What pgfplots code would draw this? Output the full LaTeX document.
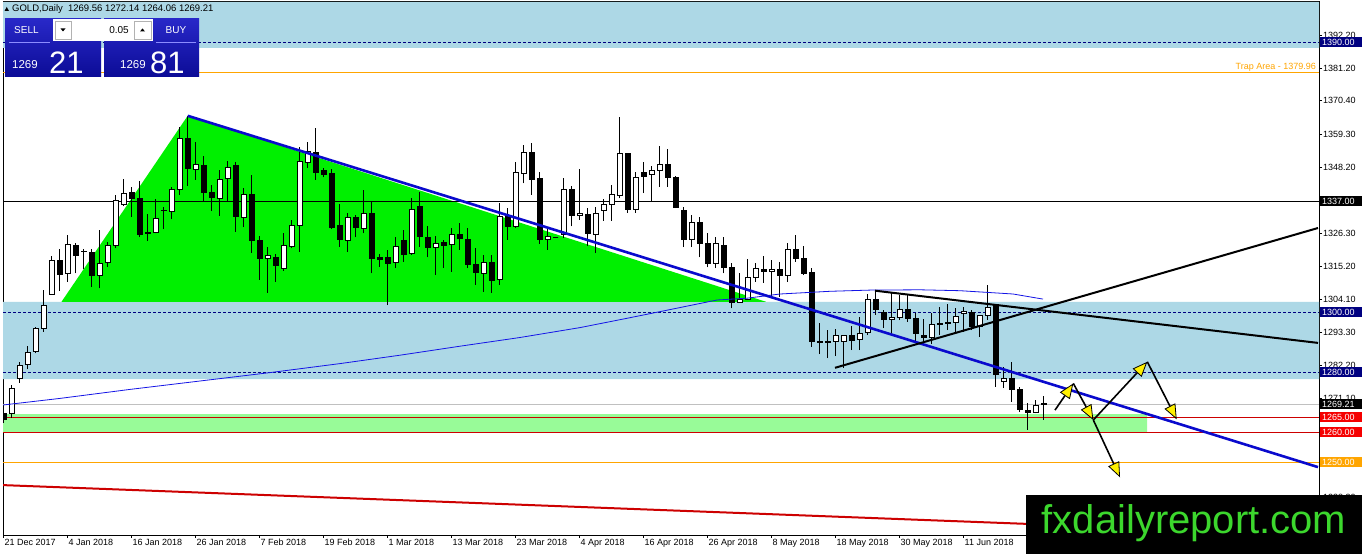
\documentclass[border=0pt]{standalone}
\usepackage{fontspec}
\setmainfont{Liberation Sans}
\usepackage{pgfplots}
\usepackage{pgfplotstable}
\pgfplotsset{compat=1.18}
\usetikzlibrary{arrows.meta}

\definecolor{lblue}{RGB}{173,216,230}
\definecolor{pgreen}{RGB}{152,251,152}
\definecolor{limeg}{RGB}{0,240,0}
\definecolor{navyc}{RGB}{0,0,128}
\definecolor{trendblue}{RGB}{10,10,205}
\definecolor{mablue}{RGB}{20,20,230}
\definecolor{redl}{RGB}{205,0,0}
\definecolor{redb}{RGB}{245,0,0}
\definecolor{orangec}{RGB}{255,165,0}
\definecolor{silverc}{RGB}{192,192,192}
\definecolor{wmgreen}{RGB}{60,215,45}
\definecolor{ptop}{RGB}{40,40,200}
\definecolor{pbot}{RGB}{12,12,150}
\definecolor{yel}{RGB}{255,240,0}

\newcommand{\fs}{\fontsize{9}{10}\selectfont}
\newcommand{\pricebox}[3]{\node[fill=#2, text=white, anchor=west, inner xsep=2pt, inner ysep=0pt, text width=38pt, align=left, minimum height=10pt, text height=6.5pt, text depth=0pt, font=\fs] at (axis cs:1320,#1) {#3};}

\pgfplotstableread{
k o h l c
0 1266.2 1267 1263 1264.2
1 1266.2 1275.7 1264.6 1274.6
2 1277.9 1283.4 1276.4 1282.3
3 1282.6 1288.7 1280.9 1286.6
4 1286.8 1295.1 1286.2 1294.6
5 1294.6 1307.3 1293.4 1302.3
6 1305.9 1318.7 1305.7 1317.3
7 1317.3 1320.9 1307.1 1312.6
8 1312.9 1325.7 1310.1 1322.6
9 1322.3 1323.1 1312.9 1318.8
10 1320.2 1321 1314.2 1320.0
11 1319.9 1321 1308.4 1312.1
12 1312.1 1327.3 1307.9 1316.2
13 1316.4 1323.4 1315.1 1322
14 1322.1 1339 1321.2 1337.3
15 1335.9 1344.3 1335.3 1339.6
16 1339.9 1341.6 1331.6 1337.7
17 1337.9 1343.8 1325.1 1325.7
18 1326.6 1332.6 1323.7 1326.2
19 1326.6 1337.7 1326.2 1331.2
20 1333.7 1335.1 1327.6 1333.9
21 1333.4 1341.6 1330.9 1340.9
22 1340.9 1361.6 1339 1357.9
23 1357.9 1365.4 1342 1347.7
24 1347.6 1356.8 1344 1349.2
25 1348.9 1352 1337.1 1339.8
26 1339.9 1342.3 1333.8 1338.1
27 1337.9 1347.3 1332.1 1344.3
28 1344.6 1350.4 1337.1 1348.1
29 1348.8 1349.9 1326.8 1331.8
30 1331.6 1341.2 1328.2 1339
31 1339.2 1345.7 1319.8 1323.8
32 1323.7 1325.3 1310.7 1317.7
33 1317.9 1321.8 1306.4 1318.7
34 1318.2 1319.3 1310.1 1315.4
35 1314.6 1326.2 1313.8 1322.2
36 1321.8 1330.7 1321.2 1328.8
37 1328.8 1355.1 1320.1 1350.1
38 1349.9 1356.6 1348.1 1353.4
39 1353.2 1361.2 1344 1346.6
40 1347.3 1348.1 1344.9 1345.7
41 1346 1347.6 1327.7 1328.2
42 1328.7 1336 1321.8 1324
43 1323.8 1332.9 1320.1 1331.6
44 1331.6 1332.3 1324.9 1328.1
45 1327.9 1340.7 1326.2 1332.9
46 1332.7 1336.8 1312.9 1317.7
47 1318 1319.3 1315.1 1317.4
48 1318 1320.7 1302.3 1316.3
49 1316.6 1325.1 1314.6 1321.8
50 1323.7 1327.3 1316.8 1319.3
51 1319.6 1337.9 1319 1334.2
52 1335.1 1340.1 1321.8 1325.1
53 1324.9 1328.7 1318.2 1321.4
54 1321.6 1325.3 1312.3 1322.9
55 1323.2 1324 1314.6 1322.3
56 1322.6 1328.1 1313.4 1325.9
57 1325.9 1329.6 1320.7 1324.4
58 1324.2 1327.9 1314.6 1315.9
59 1315.9 1321.2 1309 1313.1
60 1312.9 1319 1306.8 1316.6
61 1316.6 1319 1306.4 1310.4
62 1310.7 1336.2 1309 1331.8
63 1331.8 1334.6 1324 1328.4
64 1328.4 1349.9 1327.9 1346.6
65 1346.2 1355.7 1342.9 1353.2
66 1353.2 1356.4 1339 1344
67 1344.6 1346.8 1322.7 1324.2
68 1324.3 1327.6 1320.7 1325.1
69 1324.8 1325 1324.6 1324.8
70 1325.7 1344.6 1324.6 1340.9
71 1340.7 1342 1328.5 1332.1
72 1332.1 1347.7 1330.7 1332.9
73 1332.6 1334.6 1322 1326
74 1325.9 1335.1 1319.6 1332.9
75 1333.8 1337.6 1330.4 1335.9
76 1335.9 1342.3 1330.4 1339.2
77 1338.8 1365.1 1337.9 1352.7
78 1352.7 1352.9 1333.1 1334.3
79 1334.2 1346.8 1333.1 1344.9
80 1346.4 1349.9 1339.6 1345.1
81 1345.9 1348.7 1337.1 1347
82 1347 1355.3 1341.8 1349
83 1349 1354.3 1341.8 1344.8
84 1344.9 1345.3 1334.6 1334.9
85 1333.7 1334.9 1321.6 1324.2
86 1324.2 1332.3 1321.6 1329.9
87 1329.9 1331.6 1318.2 1322.7
88 1322.7 1326.2 1314.9 1316
89 1316 1325.1 1314.6 1322.9
90 1322.3 1325.1 1312.9 1314.9
91 1314.9 1316.2 1301.2 1303.2
92 1303.2 1313.1 1303 1304.2
93 1304.3 1317.7 1304 1311.6
94 1311.6 1316.2 1310.1 1314.6
95 1314.1 1318.6 1309.7 1313.4
96 1313.4 1317.3 1305.1 1314.2
97 1314.2 1316.8 1305.1 1312.1
98 1312.3 1322.9 1310.1 1320.9
99 1320.9 1325.7 1316.8 1317.9
100 1317.9 1322 1312.3 1312.9
101 1313.1 1314.6 1288.4 1290.1
102 1290.3 1296.4 1286 1289.9
103 1290 1294 1284.6 1290.2
104 1290.1 1294.2 1285.3 1292.3
105 1290.1 1292.3 1281.5 1292.1
106 1292.1 1295.3 1287.3 1290.4
107 1290.9 1298.2 1287.3 1292.9
108 1293.1 1306 1292.3 1304.3
109 1304.3 1307.1 1299 1300.7
110 1299.8 1300.7 1294.6 1297.6
111 1297.6 1306.8 1292.3 1298.2
112 1298.2 1305.7 1297.3 1300.9
113 1300.9 1305.7 1296.8 1297.7
114 1297.9 1299.6 1289.8 1292.9
115 1292.3 1297.6 1289.8 1291.6
116 1291.6 1299.6 1289.3 1295.9
117 1296.2 1301.6 1292.3 1295.9
118 1296.2 1302.7 1294 1296.6
119 1296.6 1301.2 1293.4 1298.4
120 1299.6 1301.6 1293.4 1300.1
121 1299.8 1300.7 1294 1295.1
122 1295.1 1299 1291.6 1298.7
123 1298.8 1309 1297.3 1301.6
124 1302.4 1302.6 1275.1 1279.3
125 1276.8 1281.8 1274.6 1277.9
126 1277.9 1283.4 1270.1 1274.3
127 1274.3 1274.9 1266.8 1267.6
128 1267.1 1269.6 1260.7 1266.6
129 1266.4 1270.7 1266.2 1269
130 1269.56 1272.14 1264.06 1269.21
}\candles

\pgfplotstableread{
x y
3 1269
60 1271.2
130 1274.2
200 1277
270 1279.8
340 1282.8
400 1285.6
460 1288.6
520 1291.5
580 1294.8
627 1297.9
670 1300.8
717 1304
747 1304.6
780 1306
830 1306.9
870 1307.3
920 1307.4
960 1307.1
1013 1306
1043 1304.3
}\mavals

\begin{document}
\begin{tikzpicture}
\useasboundingbox (0,0) rectangle (1362pt,554pt);
\fill[white] (0,0) rectangle (1362pt,554pt);
\begin{axis}[
  at={(3pt,19pt)}, anchor=south west,
  scale only axis, width=1316pt, height=533pt,
  xmin=3, xmax=1319, ymin=1225.67, ymax=1403.33,
  clip mode=individual,
  axis line style={black, line width=1pt},
  tick style={black, line width=0.8pt},
  tick align=outside, major tick length=3pt,
  xtick pos=left, ytick pos=right, yticklabel pos=right,
  xtick={3.5,67.5,131.5,195.5,259.5,323.5,387.5,451.5,515.5,579.5,643.5,707.5,771.5,835.5,899.5,963.5},
  xticklabels={21 Dec 2017,4 Jan 2018,16 Jan 2018,26 Jan 2018,7 Feb 2018,19 Feb 2018,1 Mar 2018,13 Mar 2018,23 Mar 2018,4 Apr 2018,16 Apr 2018,26 Apr 2018,8 May 2018,18 May 2018,30 May 2018,11 Jun 2018},
  ytick={1392.2,1381.2,1370.4,1359.3,1348.2,1337.1,1326.3,1315.2,1304.1,1293.3,1282.2,1271.1,1260.2,1249.2,1238.3},
  yticklabels={1392.20,1381.20,1370.40,1359.30,1348.20,1337.10,1326.30,1315.20,1304.10,1293.30,1282.20,1271.10,1260.20,1249.20,1238.30},
  xticklabel style={font=\fs, anchor=north west, inner sep=0pt, xshift=1pt, yshift=-1pt},
  yticklabel style={font=\fs, anchor=west, inner sep=0pt, xshift=1pt},
]
% zones
\addplot[fill=lblue, draw=none, forget plot] coordinates {(3,1388) (1319,1388) (1319,1403.33) (3,1403.33) (3,1388)};
\addplot[fill=lblue, draw=none, forget plot] coordinates {(3,1277.6) (1319,1277.6) (1319,1303.4) (3,1303.4) (3,1277.6)};
\addplot[fill=pgreen, draw=none, forget plot] coordinates {(3,1260) (1147,1260) (1147,1266) (3,1266) (3,1260)};
\addplot[fill=limeg, draw=none, forget plot] coordinates {(61.5,1303.4) (187.7,1365.4) (766,1303.4) (61.5,1303.4)};
% horizontal levels
\addplot[black, line width=0.8pt, forget plot] coordinates {(3,1337) (1319,1337)};
\addplot[navyc, line width=0.8pt, dash pattern=on 3pt off 2pt, forget plot] coordinates {(3,1390) (1319,1390)};
\addplot[navyc, line width=0.8pt, dash pattern=on 3pt off 2pt, forget plot] coordinates {(3,1300) (1319,1300)};
\addplot[navyc, line width=0.8pt, dash pattern=on 3pt off 2pt, forget plot] coordinates {(3,1280) (1319,1280)};
\addplot[orangec, line width=0.8pt, forget plot] coordinates {(3,1379.96) (1319,1379.96)};
\addplot[silverc, line width=0.8pt, forget plot] coordinates {(3,1269.21) (1319,1269.21)};
\addplot[redl, line width=0.8pt, forget plot] coordinates {(3,1265) (1319,1265)};
\addplot[redl, line width=0.8pt, forget plot] coordinates {(3,1260) (1319,1260)};
\addplot[orangec, line width=0.8pt, forget plot] coordinates {(3,1250) (1319,1250)};
% candles
\pgfplotstablegetrowsof{\candles}
\pgfmathtruncatemacro{\nrows}{\pgfplotsretval-1}
\pgfplotsforeachungrouped \i in {0,...,\nrows}{%
  \pgfplotstablegetelem{\i}{k}\of\candles
  \pgfmathsetmacro{\cx}{3.5+8*\pgfplotsretval}%
  \pgfplotstablegetelem{\i}{o}\of\candles \let\co\pgfplotsretval
  \pgfplotstablegetelem{\i}{h}\of\candles \let\ch\pgfplotsretval
  \pgfplotstablegetelem{\i}{l}\of\candles \let\cl\pgfplotsretval
  \pgfplotstablegetelem{\i}{c}\of\candles \let\cc\pgfplotsretval
  \pgfmathsetmacro{\xl}{\cx-2.5}%
  \pgfmathsetmacro{\xr}{\cx+2.5}%
  \pgfmathtruncatemacro{\up}{(\cc>\co)}%
  \ifnum\up=1 \def\fc{white}\else\def\fc{black}\fi
  \edef\temp{\noexpand\addplot[black, line width=1pt, forget plot] coordinates {(\cx,\cl) (\cx,\ch)};
    \noexpand\addplot[draw=black, fill=\fc, line width=1pt, forget plot] coordinates {(\xl,\co) (\xr,\co) (\xr,\cc) (\xl,\cc) (\xl,\co)};}%
  \temp
}
% moving average
\addplot[mablue, line width=0.8pt, forget plot] table[x=x, y=y] {\mavals};
% trend lines
\addplot[trendblue, line width=2.6pt, forget plot] coordinates {(187.7,1365.4) (1318,1248.3)};
\addplot[black, line width=2pt, forget plot] coordinates {(835,1281.4) (1318,1328)};
\addplot[black, line width=2pt, forget plot] coordinates {(875,1307.1) (1318,1289.7)};
\addplot[redl, line width=2pt, forget plot] coordinates {(3,1242.3) (1318,1225.7)};
% projected path arrows
\addplot[black, line width=1.6pt, -{Triangle[length=15pt, width=12pt, fill=yel, line width=0.8pt]}, forget plot] coordinates {(1055,1267.3) (1073.3,1276.2)};
\addplot[black, line width=1.6pt, -{Triangle[length=15pt, width=12pt, fill=yel, line width=0.8pt]}, forget plot] coordinates {(1073.3,1276.2) (1093.3,1264)};
\addplot[black, line width=1.6pt, -{Triangle[length=15pt, width=12pt, fill=yel, line width=0.8pt]}, forget plot] coordinates {(1093.3,1264) (1147.3,1283.4)};
\addplot[black, line width=1.6pt, -{Triangle[length=15pt, width=12pt, fill=yel, line width=0.8pt]}, forget plot] coordinates {(1147.3,1283.4) (1176.7,1264.2)};
\addplot[black, line width=1.6pt, -{Triangle[length=15pt, width=12pt, fill=yel, line width=0.8pt]}, forget plot] coordinates {(1093.3,1264) (1120,1244.9)};
% texts
\node[anchor=south east, inner sep=1pt, text=orangec, font=\fs] at (axis cs:1317,1379.96) {Trap Area - 1379.96};
\pricebox{1390}{navyc}{1390.00}
\pricebox{1337}{black}{1337.00}
\pricebox{1300}{navyc}{1300.00}
\pricebox{1280}{navyc}{1280.00}
\pricebox{1269.21}{black}{1269.21}
\pricebox{1265}{redb}{1265.00}
\pricebox{1260}{redb}{1260.00}
\pricebox{1250}{orangec}{1250.00}
\end{axis}
% header
\fill[black] (4.5pt,543pt) -- (9pt,543pt) -- (6.75pt,547pt) -- cycle;
\node[anchor=west, inner sep=0pt, font=\fontsize{9.5}{10}\selectfont] at (12pt,545pt) {GOLD,Daily\ \ 1269.56 1272.14 1264.06 1269.21};
% one click trading panel
\shade[top color=ptop, bottom color=pbot] (5pt,477pt) rectangle (101pt,535pt);
\shade[top color=ptop, bottom color=pbot] (104pt,477pt) rectangle (199pt,535pt);
\fill[white] (53pt,513pt) rectangle (153pt,535pt);
\draw[gray!60, line width=0.6pt] (55pt,515pt) rectangle (71pt,533pt);
\draw[gray!60, line width=0.6pt] (134pt,515pt) rectangle (151pt,533pt);
\fill[black] (60.5pt,525.5pt) -- (65.5pt,525.5pt) -- (63pt,522.5pt) -- cycle;
\fill[black] (140pt,522.5pt) -- (145pt,522.5pt) -- (142.5pt,525.5pt) -- cycle;
\node[anchor=east, inner sep=0pt, font=\fontsize{10}{11}\selectfont] at (129pt,524pt) {0.05};
\node[anchor=west, inner sep=0pt, text=white, font=\fontsize{10}{11}\selectfont] at (14pt,524pt) {SELL};
\node[anchor=center, inner sep=0pt, text=white, font=\fontsize{10}{11}\selectfont] at (176pt,524pt) {BUY};
\draw[white!55!blue, line width=0.6pt] (9pt,512pt) -- (50pt,512pt);
\draw[white!55!blue, line width=0.6pt] (156pt,512pt) -- (196pt,512pt);
\node[anchor=base west, inner sep=0pt, text=white, font=\fontsize{11.5}{12}\selectfont] at (12pt,485pt) {1269};
\node[anchor=base west, inner sep=0pt, text=white, font=\fontsize{31}{32}\selectfont] at (49pt,480pt) {21};
\node[anchor=base west, inner sep=0pt, text=white, font=\fontsize{11.5}{12}\selectfont] at (120pt,485pt) {1269};
\node[anchor=base west, inner sep=0pt, text=white, font=\fontsize{31}{32}\selectfont] at (150pt,480pt) {81};
% watermark
\fill[black] (1026pt,0pt) rectangle (1362pt,59pt);
\node[anchor=base west, inner sep=0pt, text=wmgreen, font=\fontsize{40}{40}\selectfont] at (1041.5pt,20pt) {fxdailyreport.com};
\end{tikzpicture}
\end{document}
